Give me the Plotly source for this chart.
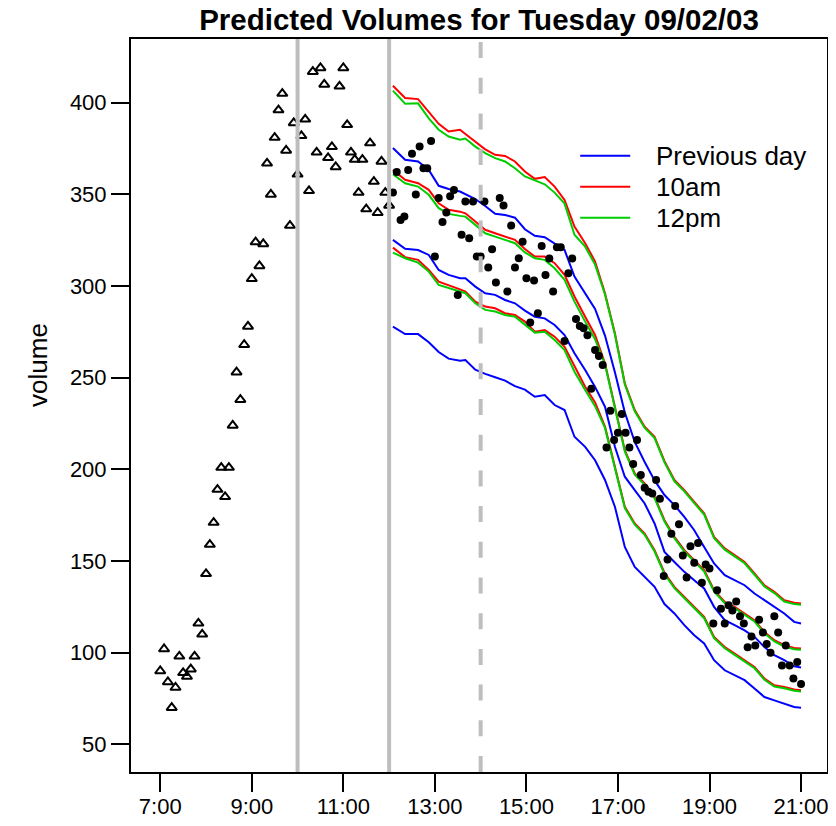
import pandas as pd
import plotly.graph_objects as go

DAY = "2003-09-02"

# observed volumes before the forecast origin (5-minute counts from 07:00 to 12:00)
obs_volume = [90, 102, 84, 70, 81, 98, 89, 87, 91, 98,
              116, 110, 143, 159, 171, 189, 201, 185, 201, 224,
              253, 238, 268, 278, 304, 324, 311, 323, 367, 350,
              381, 396, 405, 374, 333, 389, 361, 382, 391, 352,
              417, 373, 419, 410, 370, 376, 365, 409, 419, 388,
              373, 369, 351, 369, 342, 378, 357, 340, 368, 351, 344]

# actual volumes after the forecast origin (5-minute counts from 12:05 to 21:00)
actual_volume = [351.0, 362.2, 336.1, 337.9, 363.3, 372.2, 350.0, 376.2, 364.3, 364.3,
                 379.1, 316.1, 348.1, 335.0, 340.1, 349.0, 352.4, 295.1, 328.0, 346.1,
                 326.1, 346.1, 316.1, 316.1, 346.1, 310.1, 320.1, 301.9, 348.1, 343.9,
                 297.0, 333.0, 310.1, 315.2, 324.2, 304.3, 280.2, 303.0, 285.2, 321.9,
                 306.1, 315.0, 297.0, 321.2, 321.2, 270.0, 307.0, 315.0, 282.0, 278.2,
                 277.0, 273.2, 244.0, 265.1, 261.9, 257.0, 212.0, 232.0, 216.0, 220.0,
                 230.2, 220.0, 212.0, 203.0, 216.0, 196.9, 190.0, 187.8, 186.9, 194.2,
                 184.0, 141.8, 150.8, 164.9, 180.0, 170.0, 153.0, 141.0, 158.1, 149.0,
                 159.9, 138.1, 148.1, 145.9, 115.9, 134.1, 123.9, 115.9, 125.9, 123.0,
                 127.9, 119.9, 115.9, 103.0, 108.8, 103.9, 117.9, 111.0, 104.8, 99.9,
                 119.9, 111.0, 93.0, 103.9, 93.0, 85.9, 94.9, 82.9]

# forecast curves (prediction and interval bounds) read at these times
line_times = ["12:05", "12:21", "12:38", "12:52", "13:05", "13:18", "13:33", "13:40",
              "13:53", "14:06", "14:19", "14:32", "14:45", "14:58", "15:11", "15:24",
              "15:37", "15:50", "16:03", "16:17", "16:30", "16:43", "16:56", "17:09",
              "17:22", "17:35", "17:48", "18:01", "18:14", "18:27", "18:40", "18:53",
              "19:06", "19:20", "19:33", "19:46", "19:59", "20:12", "20:25", "20:38",
              "20:51", "21:00"]

prev_upper = [375.3, 368.9, 368, 363.4, 354.7, 353, 351.6, 350, 347.5, 343.7, 339.5, 338.8,
              337.3, 331, 327.4, 326.7, 323.4, 319.7, 305.2, 296.1, 287.5, 273, 253, 231,
              215, 204, 194, 186, 180.5, 174.1, 166.8, 157.7, 148.7, 142.3, 139.5, 136.8,
              132.3, 128.6, 125, 121.4, 116.8, 115.9]
prev_mid = [325.2, 320.3, 319.7, 317, 308.8, 306.1, 304.3, 304.3, 299.7, 296.1, 295.2, 292.4,
            290.6, 286.6, 283.3, 282.4, 278.8, 273.3, 263.3, 254.2, 245, 234.2, 212.3, 196,
            188.7, 181.4, 170.5, 155, 149.5, 144.1, 139.5, 135, 125, 117.7, 115, 112.2,
            108.6, 103.1, 98.6, 95.9, 92.6, 91.9]
prev_lower = [277.9, 273.8, 273.8, 269.4, 264, 260.4, 259.3, 259.7, 254.4, 252.1, 250.3, 248.4,
              245.4, 243.5, 239.6, 240.6, 235.1, 232.4, 217.8, 212.3, 205, 194.2, 179.6, 157.7,
              146.8, 141.4, 135.9, 126.5, 121.4, 115, 109.5, 105, 95.9, 90.4, 87.7, 85,
              80.4, 75.8, 74, 72.2, 70.4, 70]

am10_upper = [409.3, 402.6, 402, 395, 388.5, 384.3, 385.3, 383, 378.6, 374.6, 371.6, 371,
              368, 362.5, 358.5, 359.5, 354.3, 347, 332.5, 323.4, 313.4, 296.1, 274.3, 247,
              232.4, 223.3, 217.8, 204.5, 194.2, 188.7, 182.3, 176, 163.2, 156.9, 153.2, 149.5,
              143.2, 136.8, 133.2, 128.6, 127.2, 126.8]
am10_mid = [363.4, 358, 356.1, 352.5, 345.2, 341.6, 340.6, 339.7, 335.2, 330.7, 328.8, 327,
            325.2, 320.2, 316.1, 316.1, 312.5, 306.1, 294.3, 283.3, 273.3, 257.9, 234.2, 210.5,
            197.8, 192.3, 185, 172.3, 163.2, 155.9, 150.5, 145, 134.1, 127.7, 125, 121.4,
            117.7, 111.3, 106.8, 104.1, 102.6, 102.3]
am10_lower = [321, 315.8, 314.3, 308.8, 302.4, 300.6, 298.2, 297, 291.5, 288.8, 287.9, 285.2,
              284.2, 280.6, 275.1, 276, 272.4, 266.9, 256, 245.1, 236.5, 223.3, 201.4, 179.6,
              170.5, 165, 155.9, 143.6, 135.9, 130.4, 125, 119.5, 108.6, 103.1, 99.5, 95.9,
              92.2, 85.9, 82.2, 81.3, 79.9, 79.5]

pm12_upper = [406.6, 399.5, 399.7, 391.5, 385.3, 381.6, 379.8, 380.5, 376.1, 372.5, 369.8, 368,
              364.3, 359.8, 357.7, 355.5, 351, 345, 328, 321.5, 311.7, 295.4, 273.6, 246.3,
              231.7, 222.6, 217.1, 203.8, 193.5, 188, 181.6, 175.3, 162.5, 156.2, 152.5, 148.8,
              142.5, 136.1, 132.5, 127.9, 126.5, 126.1]
pm12_mid = [361, 356.1, 354.3, 349.8, 342.5, 339.4, 338.3, 337.9, 333.4, 328.8, 327, 325.2,
            323.4, 318.4, 315.2, 314.3, 309.7, 303.4, 291.5, 280.6, 271, 257.2, 233.5, 209.8,
            197.1, 191.6, 184.3, 171.6, 162.5, 155.2, 149.8, 144.3, 133.4, 127, 124.3, 120.7,
            117, 110.6, 106.1, 103.4, 101.9, 101.6]
pm12_lower = [318.3, 315.2, 312.8, 307.9, 300.6, 298.8, 297, 296.1, 290.6, 287, 286.1, 284.2,
              283.3, 278.8, 274.6, 275.1, 270.6, 265.1, 253.3, 243.3, 234.5, 222.6, 200.7, 178.9,
              169.8, 164.3, 155.2, 142.9, 135.2, 129.7, 124.3, 118.8, 107.9, 102.4, 98.8, 95.2,
              91.5, 85.2, 81.5, 80.6, 79.2, 78.8]

series_names = ["Previous day", "10am", "12pm"]
series_colors = ["#0000FF", "#FF0000", "#00CD00"]

tick_labels = ["7:00", "9:00", "11:00", "13:00", "15:00", "17:00", "19:00", "21:00"]
y_ticks = [50, 100, 150, 200, 250, 300, 350, 400]
solid_marks = ["10:00", "12:00"]
dashed_mark = "14:00"


def ts(hm):
    return pd.Timestamp(f"{DAY} {hm}")


obs_times = pd.date_range(ts("07:00"), periods=len(obs_volume), freq="5min")
act_times = pd.date_range(ts("12:05"), periods=len(actual_volume), freq="5min")
lt = [ts(t) for t in line_times]

fig = go.Figure()

groups = [(prev_upper, prev_mid, prev_lower), (am10_upper, am10_mid, am10_lower),
          (pm12_upper, pm12_mid, pm12_lower)]
for (up, mid, lo), name, col in zip(groups, series_names, series_colors):
    for arr in (up, mid, lo):
        fig.add_trace(go.Scatter(x=lt, y=arr, mode="lines", name=name,
                                 line=dict(color=col, width=2), showlegend=False,
                                 hoverinfo="skip"))

fig.add_trace(go.Scatter(x=obs_times, y=obs_volume, mode="markers",
                         marker=dict(symbol="triangle-up-open", size=9, color="black",
                                     line=dict(width=2, color="black")),
                         showlegend=False))
fig.add_trace(go.Scatter(x=act_times, y=actual_volume, mode="markers",
                         marker=dict(symbol="circle", size=8, color="black"),
                         showlegend=False))

for m in solid_marks:
    fig.add_shape(type="line", xref="x", yref="paper", x0=ts(m), x1=ts(m), y0=0, y1=1,
                  line=dict(color="#BEBEBE", width=4), layer="above")
fig.add_shape(type="line", xref="x", yref="paper", x0=ts(dashed_mark), x1=ts(dashed_mark),
              y0=0, y1=1, line=dict(color="#BEBEBE", width=4, dash="16px,19.7px"),
              layer="above")

# legend (drawn manually to match the original placement)
leg_y = [0.8407, 0.7983, 0.7560]
for name, col, yy in zip(series_names, series_colors, leg_y):
    fig.add_shape(type="line", xref="paper", yref="paper", x0=0.6454, x1=0.7173,
                  y0=yy, y1=yy, line=dict(color=col, width=2))
    fig.add_annotation(text=name, xref="paper", yref="paper", x=0.7518, y=yy,
                       xanchor="left", yanchor="middle", showarrow=False,
                       font=dict(size=26, color="black"))

fig.add_annotation(text="volume", xref="paper", yref="paper", x=-0.1337, y=0.5553,
                   textangle=-90, xanchor="center", yanchor="middle", showarrow=False,
                   font=dict(size=26, color="black"))

# the page body has an 8px margin; the figure is sized to fit inside the window
fig.update_layout(
    width=820, height=810,
    margin=dict(l=123, r=1.3, t=31.3, b=46.3, pad=0),
    plot_bgcolor="white", paper_bgcolor="white",
    showlegend=False,
    font=dict(family="Liberation Sans, Arial, Helvetica, sans-serif", color="black", size=22),
    title=dict(text="<b>Predicted Volumes for Tuesday 09/02/03</b>", x=0.5, xref="paper",
               xanchor="center", y=1 - 12 / 810, yref="container", yanchor="middle",
               font=dict(size=29.5, color="black")),
)
fig.update_xaxes(
    type="date", range=[f"{DAY} 06:21:39", f"{DAY} 21:34:02"],
    tickmode="array", tickvals=[ts(t) for t in tick_labels], ticktext=tick_labels,
    ticks="outside", ticklen=18, tickwidth=2, tickcolor="black",
    showline=True, linewidth=2, linecolor="black", mirror=True,
    showgrid=False, zeroline=False, tickfont=dict(size=22),
    ticklabelstandoff=-4, ticklabeloverflow="allow", automargin=False,
)
fig.update_yaxes(
    range=[34.9, 434.8], tickmode="array", tickvals=y_ticks,
    ticks="outside", ticklen=18, tickwidth=2, tickcolor="black",
    showline=True, linewidth=2, linecolor="black", mirror=True,
    showgrid=False, zeroline=False, tickfont=dict(size=22), automargin=False,
)

fig.write_html("out.html")
